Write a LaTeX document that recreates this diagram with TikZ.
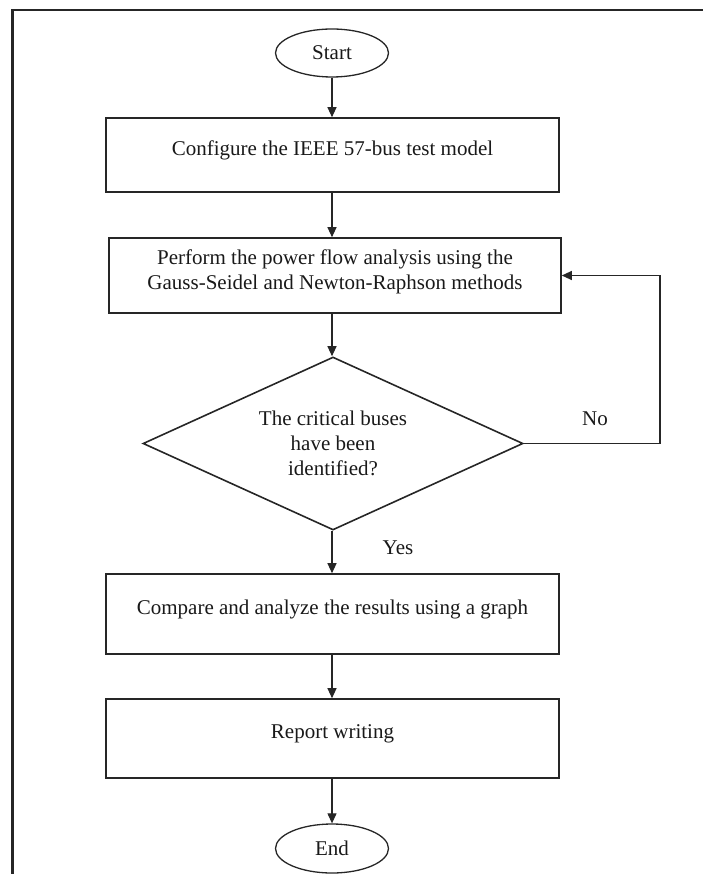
\documentclass[tikz,border=0pt]{standalone}
\usepackage{fontspec}
\setmainfont{Liberation Serif}
\usetikzlibrary{shapes.geometric,arrows.meta}
\begin{document}
\begin{tikzpicture}[x=1pt,y=-1pt,
  txt/.style={font=\fontsize{21}{25}\selectfont,text=black!90},
  box/.style={txt,draw=black!85,line width=1.6pt,minimum width=453pt,inner sep=0pt,align=center,text depth=14pt},
  term/.style={txt,draw=black!85,ellipse,line width=1.3pt,minimum width=113pt,minimum height=48pt,inner sep=0pt},
  decision/.style={txt,draw=black!85,diamond,aspect=2.2,line width=1.6pt,minimum width=380pt,minimum height=173pt,inner sep=0pt,align=center},
  flow/.style={draw=black!85,line width=1.1pt,-{Triangle[length=10pt,width=9pt]}},
  lbl/.style={txt,inner sep=0pt}]
\useasboundingbox (0,0) rectangle (702,874);
% frame (cropped at right and bottom)
\draw[line width=2.5pt,black!85] (12.7,880) -- (12.7,10) -- (710,10);

\node[term] (start) at (332,53) {Start};
\node[box,minimum height=74pt] (b1) at (332.5,155) {Configure the IEEE 57-bus test model};
\node[box,minimum width=452pt,minimum height=75pt,text depth=12pt] (b2) at (335,275.5) {Perform the power flow analysis using the\\Gauss-Seidel and Newton-Raphson methods};
\node[decision] (dec) at (333,443.5) {The critical buses\\have been\\identified?};
\node[box,minimum height=80pt] (b3) at (332.5,614) {Compare and analyze the results using a graph};
\node[box,minimum height=79pt] (b4) at (332.5,738.5) {Report writing};
\node[term,minimum height=49pt] (end) at (332,848.5) {End};

\coordinate (fb) at (660,443.5);

\draw[flow] (start.south) -- (start.south |- b1.north);
\draw[flow] (b1.south -| start.south) -- (start.south |- b2.north);
\draw[flow] (b2.south -| start.south) -- (dec.north -| start.south);
\draw[flow] (dec.south -| start.south) -- (start.south |- b3.north);
\draw[flow] (b3.south -| start.south) -- (start.south |- b4.north);
\draw[flow] (b4.south -| start.south) -- (end.north);
\draw[flow] (dec.east) -- (fb) |- (b2.east);

\node[lbl] (no) at (595,419) {No};
\node[lbl] (yes) at (398,548) {Yes};
\end{tikzpicture}
\end{document}
